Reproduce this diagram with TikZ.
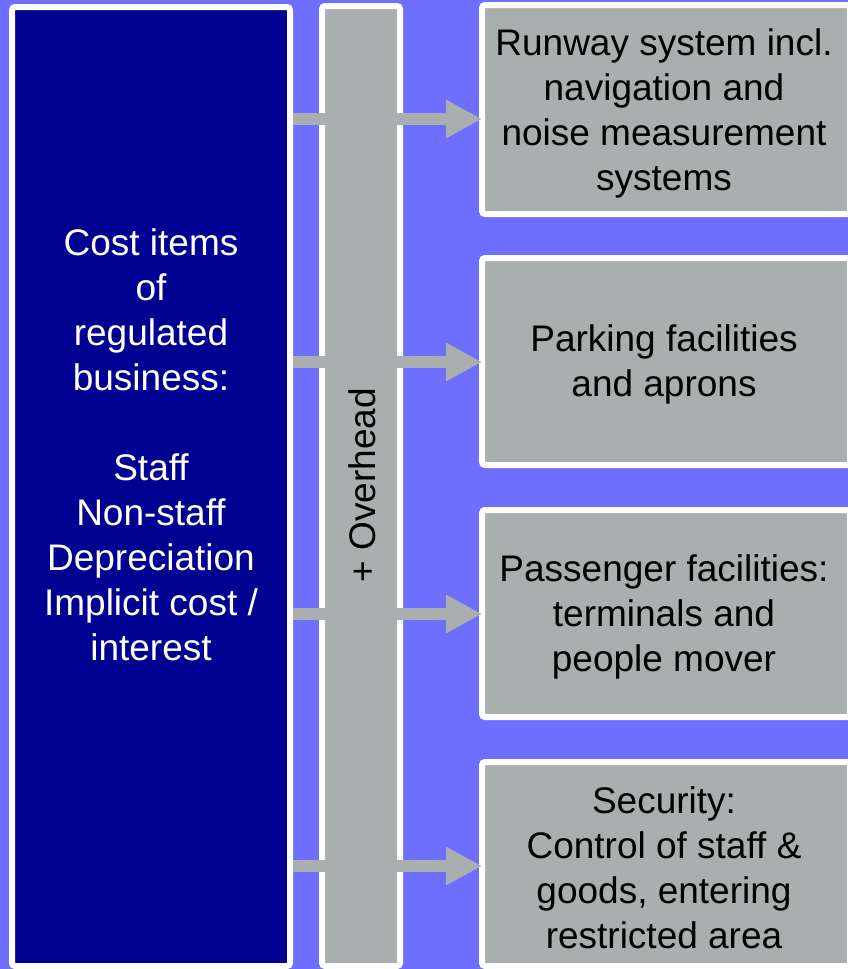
\documentclass[tikz,border=0pt]{standalone}
\usepackage{fontspec}
\setmainfont{Liberation Sans}
\usetikzlibrary{arrows.meta}
\definecolor{bgblue}{RGB}{110,110,255}
\definecolor{navy}{RGB}{0,0,145}
\definecolor{boxgray}{RGB}{169,174,174}
\tikzset{
  panel/.style={draw=white, line width=6pt, rounded corners=3pt, inner sep=0pt, anchor=center},
  navybox/.style={panel, fill=navy},
  graybox/.style={panel, fill=boxgray},
  boxtext/.style={font=\fontsize{37}{45}\selectfont, align=center, text=black, inner sep=0pt},
  lefttext/.style={font=\fontsize{37}{45}\selectfont, align=center, text=white, inner sep=0pt},
  ovtext/.style={font=\fontsize{37}{45}\selectfont, text=black, inner sep=0pt, rotate=90},
  flowarrow/.style={draw=boxgray, line width=12pt, -{Triangle[length=36pt,width=36pt]}, shorten >=-3pt}
}
\begin{document}
\begin{tikzpicture}[x=1pt,y=-1pt]
\useasboundingbox (0,0) rectangle (848,969);
\clip (0,0) rectangle (848,969);
\fill[bgblue] (0,0) rectangle (848,969);
% left box
\node[navybox, minimum width=278pt, minimum height=959pt] (L) at (151,486.5) {};
% overhead column
\node[graybox, minimum width=78pt, minimum height=960pt] (O) at (361,486) {};
% right boxes
\node[graybox, minimum width=368pt, minimum height=209pt] (R1) at (666,109.5) {};
\node[graybox, minimum width=368pt, minimum height=207pt] (R2) at (666,361.5) {};
\node[graybox, minimum width=368pt, minimum height=207pt] (R3) at (666,613.5) {};
\node[graybox, minimum width=368pt, minimum height=204pt] (R4) at (666,864) {};
% arrow heights
\coordinate (a1) at (0,119);
\coordinate (a2) at (0,362);
\coordinate (a3) at (0,614);
\coordinate (a4) at (0,866);
\draw[flowarrow] (L.east |- a1) -- (R1.west |- a1);
\draw[flowarrow] (L.east |- a2) -- (R2.west |- a2);
\draw[flowarrow] (L.east |- a3) -- (R3.west |- a3);
\draw[flowarrow] (L.east |- a4) -- (R4.west |- a4);
% texts
\node[boxtext] (T1) at ([xshift=-2pt,yshift=-4pt]R1.center) {Runway system incl.\\navigation and\\noise measurement\\systems};
\node[boxtext] (T2) at ([xshift=-2pt,yshift=-3pt]R2.center) {Parking facilities\\and aprons};
\node[boxtext] (T3) at ([xshift=-2pt,yshift=-3pt]R3.center) {Passenger facilities:\\terminals and\\people mover};
\node[boxtext] (T4) at ([xshift=-2pt,yshift=-4pt]R4.center) {Security:\\Control of staff \&\\goods, entering\\restricted area};
\node[lefttext] (LT) at (151,445) {Cost items\\of\\regulated\\business:\\[45pt]Staff\\Non-staff\\Depreciation\\Implicit cost /\\interest};
\node[ovtext] (OT) at (362,485) {+ Overhead};
\end{tikzpicture}
\end{document}
